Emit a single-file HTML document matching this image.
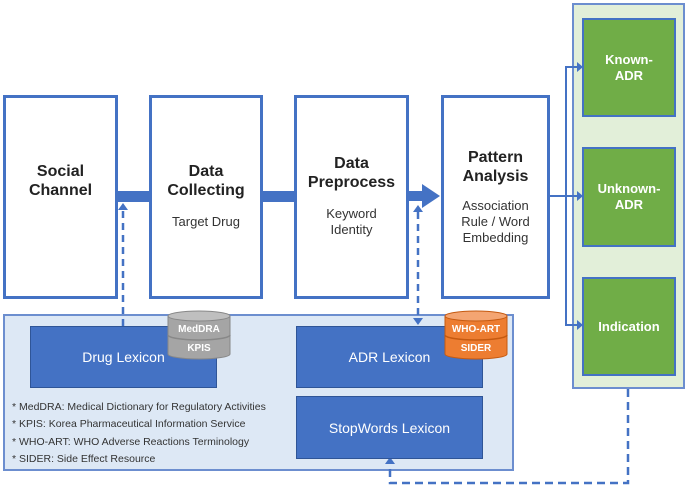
<!DOCTYPE html>
<html><head><style>
body{margin:0;width:685px;height:488px;background:#fff;font-family:"Liberation Sans",sans-serif;position:relative;overflow:hidden}
.a{position:absolute;box-sizing:border-box}
.main{border:3px solid #4472c4;background:#fff;text-align:center;color:#222}
.t{font-weight:bold;font-size:16px;line-height:19px}
.s{font-size:13px;line-height:16px;margin-top:14px;color:#333}
.g{background:#70ad47;border:2px solid #4472c4;color:#fff;font-weight:bold;font-size:13px;line-height:16px;display:flex;align-items:center;justify-content:center;text-align:center}
.b{background:#4472c4;color:#fff;font-size:14px;display:flex;align-items:center;justify-content:center;border:1px solid #2f5597}
.fn{font-size:10.5px;color:#333;left:12px}
</style></head><body>
<div class="a" style="left:3px;top:314px;width:511px;height:157px;background:#dde8f5;border:2px solid #6c8ecf"></div>
<div class="a" style="left:572px;top:3px;width:113px;height:386px;background:#e2efd9;border:2px solid #6c8ecf"></div>

<svg class="a" style="left:0;top:0" width="685" height="488">
<rect x="116" y="191" width="36" height="11" fill="#4472c4"/>
<rect x="260" y="191" width="36" height="11" fill="#4472c4"/>
<rect x="407" y="191" width="16" height="10" fill="#4472c4"/>
<polygon points="422,184 440,196 422,208" fill="#4472c4"/>
<g stroke="#4472c4" stroke-width="2" fill="none">
<line x1="549" y1="196" x2="578" y2="196"/>
<polyline points="578,67 566,67 566,325 578,325"/>
<polyline points="628,389 628,483 390,483 390,462" stroke-width="2.5" stroke-dasharray="8,5"/>
<line x1="123" y1="326" x2="123" y2="210" stroke-width="2.5" stroke-dasharray="7,5"/>
<line x1="418" y1="212" x2="418" y2="316" stroke-width="2.5" stroke-dasharray="7,5"/>
</g>
<g fill="#4472c4">
<polygon points="577,62 583,67 577,72"/><polygon points="577,191 583,196 577,201"/><polygon points="577,320 583,325 577,330"/>
<polygon points="118,210 123,203 128,210"/>
<polygon points="413,212 418,205 423,212"/><polygon points="413,318 418,325 423,318"/>
<polygon points="385,464 390,457 395,464"/>
</g>
</svg>

<div class="a main" style="left:3px;top:95px;width:115px;height:204px;padding-top:64px"><div class="t">Social<br>Channel</div></div>
<div class="a main" style="left:149px;top:95px;width:114px;height:204px;padding-top:64px"><div class="t">Data<br>Collecting</div><div class="s">Target Drug</div></div>
<div class="a main" style="left:294px;top:95px;width:115px;height:204px;padding-top:56px"><div class="t">Data<br>Preprocess</div><div class="s">Keyword<br>Identity</div></div>
<div class="a main" style="left:441px;top:95px;width:109px;height:204px;padding-top:50px"><div class="t">Pattern<br>Analysis</div><div class="s" style="margin-top:12px">Association<br>Rule / Word<br>Embedding</div></div>

<div class="a g" style="left:582px;top:18px;width:94px;height:99px">Known-<br>ADR</div>
<div class="a g" style="left:582px;top:147px;width:94px;height:100px">Unknown-<br>ADR</div>
<div class="a g" style="left:582px;top:277px;width:94px;height:99px">Indication</div>

<div class="a b" style="left:30px;top:326px;width:187px;height:62px">Drug Lexicon</div>
<div class="a b" style="left:296px;top:326px;width:187px;height:62px">ADR Lexicon</div>
<div class="a b" style="left:296px;top:396px;width:187px;height:63px">StopWords Lexicon</div>

<svg class="a" style="left:165px;top:310px" width="68" height="54">
<path d="M3,6 V44 A31,5 0 0 0 65,44 V6" fill="#a5a5a5" stroke="#888" stroke-width="1"/>
<ellipse cx="34" cy="6" rx="31" ry="5" fill="#bfbfbf" stroke="#888"/>
<path d="M3,25 A31,5 0 0 0 65,25" fill="none" stroke="#888" stroke-width="1.5"/>
<text x="34" y="22" text-anchor="middle" font-size="10" font-weight="bold" fill="#fff" font-family="Liberation Sans">MedDRA</text>
<text x="34" y="41" text-anchor="middle" font-size="10" font-weight="bold" fill="#fff" font-family="Liberation Sans">KPIS</text>
</svg>
<svg class="a" style="left:442px;top:310px" width="68" height="54">
<path d="M3,6 V44 A31,5 0 0 0 65,44 V6" fill="#ed7d31" stroke="#c55a11" stroke-width="1"/>
<ellipse cx="34" cy="6" rx="31" ry="5" fill="#f4a572" stroke="#c55a11"/>
<path d="M3,25 A31,5 0 0 0 65,25" fill="none" stroke="#c55a11" stroke-width="1.5"/>
<text x="34" y="22" text-anchor="middle" font-size="10" font-weight="bold" fill="#fff" font-family="Liberation Sans">WHO-ART</text>
<text x="34" y="41" text-anchor="middle" font-size="10" font-weight="bold" fill="#fff" font-family="Liberation Sans">SIDER</text>
</svg>

<div class="a fn" style="top:401px">* MedDRA: Medical Dictionary for Regulatory Activities</div>
<div class="a fn" style="top:418px">* KPIS: Korea Pharmaceutical Information Service</div>
<div class="a fn" style="top:436px">* WHO-ART: WHO Adverse Reactions Terminology</div>
<div class="a fn" style="top:453px">* SIDER: Side Effect Resource</div>
</body></html>
